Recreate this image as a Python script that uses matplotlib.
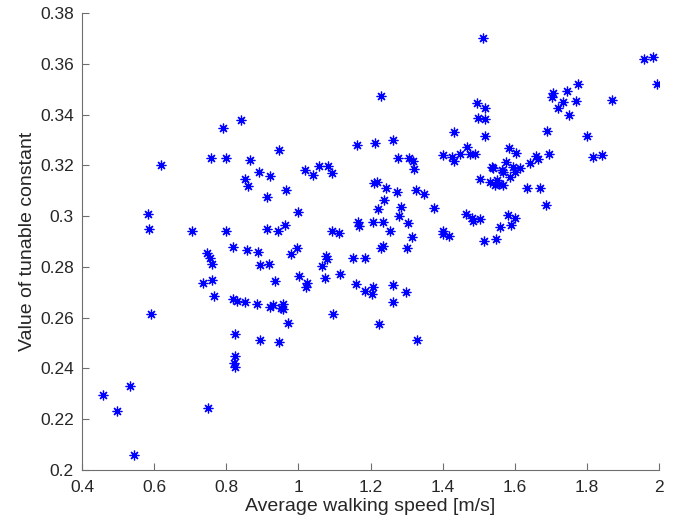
import numpy as np
import matplotlib.pyplot as plt

# average walking speed [m/s]
speed = [
    0.842, 0.792, 0.620, 0.757, 0.798, 0.866, 0.945, 0.892, 0.920, 0.851,
    0.859, 0.913, 0.583, 0.585, 0.705, 0.800, 0.913, 0.944, 0.747, 0.754,
    0.761, 0.818, 0.858, 0.888, 0.893, 0.918, 0.934, 0.736, 0.761, 0.766,
    0.818, 0.830, 0.853, 0.885, 0.922, 0.930, 0.953, 0.591, 0.825, 0.893,
    0.945, 0.823, 0.822, 0.825, 0.534, 0.457, 0.496, 0.749, 0.545,
    1.230, 1.431, 1.163, 1.212, 1.262, 1.276, 1.308, 1.319, 1.320, 1.402,
    1.425, 1.431, 1.448, 1.467, 1.019, 1.041, 1.058, 1.081, 1.093, 0.965,
    1.210, 1.217, 1.243, 1.273, 1.325, 1.349, 1.237, 1.220, 1.284, 1.278,
    1.377, 1.464, 0.999, 0.962, 1.166, 1.169, 1.206, 1.234, 1.305, 1.254,
    1.316, 1.092, 1.113, 1.400, 1.402, 1.419,
    0.997, 0.980, 1.076, 1.080, 1.066, 1.151, 1.185, 1.229, 1.234, 1.301,
    1.002, 1.025, 1.021, 1.073, 1.115, 1.159, 1.186, 1.206, 1.205, 1.262,
    1.299, 1.262, 0.958, 0.958, 0.970, 1.097, 1.223, 1.329,
    1.511, 1.958, 1.983, 1.994, 1.776, 1.744, 1.707, 1.703, 1.735, 1.771,
    1.869, 1.720, 1.751, 1.496, 1.517, 1.499, 1.518, 1.518, 1.689, 1.800,
    1.477, 1.489, 1.584, 1.603, 1.696, 1.659, 1.665, 1.642, 1.818, 1.841,
    1.575, 1.536, 1.541, 1.564, 1.596, 1.615, 1.568, 1.601, 1.587, 1.504,
    1.530, 1.550, 1.555, 1.567, 1.545, 1.635, 1.671, 1.686, 1.481, 1.504,
    1.483, 1.582, 1.601, 1.590, 1.559, 1.515, 1.548,
]

# value of tunable constant
konstanta = [
    0.3380, 0.3346, 0.3203, 0.3227, 0.3228, 0.3222, 0.3260, 0.3175, 0.3157, 0.3145,
    0.3118, 0.3077, 0.3007, 0.2951, 0.2940, 0.2942, 0.2951, 0.2940, 0.2856, 0.2834,
    0.2813, 0.2877, 0.2867, 0.2860, 0.2809, 0.2813, 0.2745, 0.2736, 0.2750, 0.2684,
    0.2675, 0.2665, 0.2661, 0.2654, 0.2643, 0.2651, 0.2640, 0.2615, 0.2535, 0.2512,
    0.2504, 0.2450, 0.2420, 0.2407, 0.2332, 0.2297, 0.2232, 0.2245, 0.2059,
    0.3475, 0.3333, 0.3282, 0.3286, 0.3299, 0.3227, 0.3227, 0.3216, 0.3187, 0.3239,
    0.3233, 0.3216, 0.3245, 0.3273, 0.3181, 0.3162, 0.3197, 0.3197, 0.3170, 0.3103,
    0.3132, 0.3136, 0.3112, 0.3095, 0.3104, 0.3087, 0.3063, 0.3028, 0.3034, 0.3000,
    0.3030, 0.3007, 0.3015, 0.2964, 0.2977, 0.2960, 0.2976, 0.2977, 0.2973, 0.2942,
    0.2918, 0.2940, 0.2935, 0.2940, 0.2931, 0.2922,
    0.2876, 0.2850, 0.2843, 0.2833, 0.2802, 0.2834, 0.2835, 0.2873, 0.2881, 0.2876,
    0.2764, 0.2736, 0.2720, 0.2758, 0.2773, 0.2733, 0.2705, 0.2720, 0.2692, 0.2729,
    0.2702, 0.2661, 0.2653, 0.2634, 0.2580, 0.2615, 0.2575, 0.2511,
    0.3701, 0.3618, 0.3627, 0.3522, 0.3520, 0.3493, 0.3483, 0.3468, 0.3449, 0.3453,
    0.3459, 0.3427, 0.3400, 0.3445, 0.3427, 0.3387, 0.3383, 0.3317, 0.3337, 0.3315,
    0.3245, 0.3243, 0.3270, 0.3249, 0.3243, 0.3236, 0.3223, 0.3210, 0.3233, 0.3240,
    0.3214, 0.3193, 0.3189, 0.3183, 0.3193, 0.3190, 0.3173, 0.3173, 0.3154, 0.3145,
    0.3136, 0.3144, 0.3128, 0.3122, 0.3124, 0.3111, 0.3111, 0.3043, 0.2993, 0.2988,
    0.2980, 0.3006, 0.2994, 0.2966, 0.2956, 0.2903, 0.2910,
]

x_ticks = [0.4, 0.6, 0.8, 1.0, 1.2, 1.4, 1.6, 1.8, 2.0]
x_tick_labels = ["0.4", "0.6", "0.8", "1", "1.2", "1.4", "1.6", "1.8", "2"]
y_ticks = [0.2, 0.22, 0.24, 0.26, 0.28, 0.3, 0.32, 0.34, 0.36, 0.38]
y_tick_labels = ["0.2", "0.22", "0.24", "0.26", "0.28", "0.3", "0.32", "0.34", "0.36", "0.38"]

plt.rcParams['font.family'] = ['Liberation Sans', 'DejaVu Sans']
teksto_spalva = '#262626'
asies_spalva = '#6e6e6e'

fig = plt.figure(figsize=(6.79, 5.28), dpi=100)
ax = fig.add_axes([82 / 679, 1 - 470 / 528, (659 - 82) / 679, (470 - 13) / 528])

ax.plot(speed, konstanta, linestyle='none', marker=(8, 2, 0), markersize=7,
        markeredgewidth=0.9, color='blue')

ax.set_xlim(0.4, 2.0)
ax.set_ylim(0.2, 0.38)
ax.set_xticks(x_ticks)
ax.set_xticklabels(x_tick_labels)
ax.set_yticks(y_ticks)
ax.set_yticklabels(y_tick_labels)

for s in ['top', 'right']:
    ax.spines[s].set_visible(False)
for s in ['left', 'bottom']:
    ax.spines[s].set_color(asies_spalva)
    ax.spines[s].set_linewidth(0.8)

ax.tick_params(direction='in', length=5, width=0.8, color=asies_spalva,
               labelsize=12.5, labelcolor=teksto_spalva)
ax.tick_params(axis='x', pad=7.5)
ax.tick_params(axis='y', pad=6)

ax.set_xlabel("Average walking speed [m/s]", fontsize=14, color=teksto_spalva, labelpad=2)
ax.set_ylabel("Value of tunable constant", fontsize=14, color=teksto_spalva, labelpad=3)

fig.savefig("out.png", dpi=100)
